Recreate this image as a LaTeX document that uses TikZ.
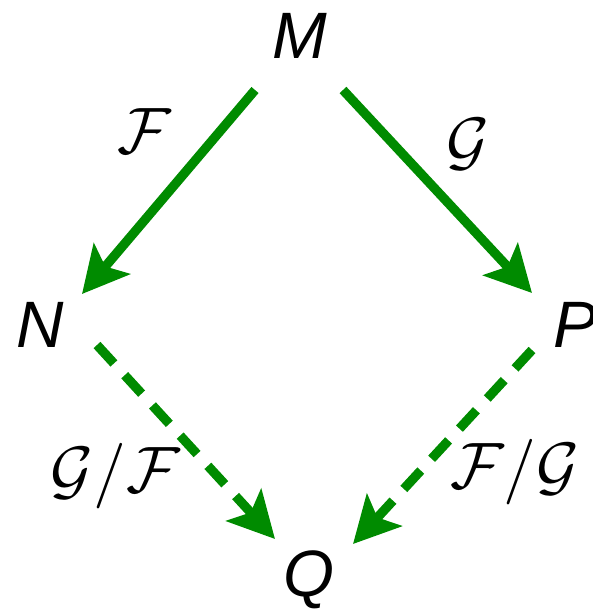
\documentclass[tikz,border=0pt]{standalone}
\usepackage{fontspec}
\setsansfont{Liberation Sans}
\DeclareFontShape{OMS}{cmsy}{m}{n}{<->cmsy10}{}
\DeclareFontShape{OML}{cmm}{m}{it}{<->cmmi10}{}
\DeclareFontShape{OT1}{cmr}{m}{n}{<->cmr10}{}
\definecolor{arrgreen}{RGB}{0,139,0}
\usetikzlibrary{arrows.meta}

\begin{document}
\begin{tikzpicture}[
  x=0.03cm, y=-0.03cm,
  obj/.style={font=\fontsize{56}{60}\selectfont\sffamily\itshape, inner sep=0pt},
  lbl/.style={font=\fontsize{56}{60}\selectfont, inner sep=0pt, anchor=base},
  arr/.style={-{Stealth[length=1.38cm,width=1.41cm,inset=0.3cm]}, line width=0.28cm, arrgreen},
  dasharr/.style={arr, dash pattern=on 0.75cm off 0.48cm},
]
  \useasboundingbox (0,0) rectangle (593,609);

  % Objects
  \node[obj] (M) at (300,36) {M};
  \node[obj] (N) at (40,325) {N};
  \node[obj] (P) at (575,325) {P};
  \node[obj] (Q) at (309,580) {Q};

  % Maps
  \draw[arr] ([shift={(-45,54)}]M.center) -- ([shift={(42,-31)}]N.center);
  \draw[arr] ([shift={(43,54)}]M.center) -- ([shift={(-43,-32)}]P.center);
  \draw[dasharr] ([shift={(57,20)}]N.center) -- ([shift={(-34,-41)}]Q.center);
  \draw[dasharr] ([shift={(-43,25)}]P.center) -- ([shift={(44,-36)}]Q.center);

  % Labels
  \node[lbl] (lF) at (144,153) {$\mathcal{F}$};
  \node[lbl] (lG) at (468,163) {$\mathcal{G}$};
  \node[lbl] (lGF) at (115,492) {$\mathcal{G}/\mathcal{F}$};
  \node[lbl] (lFG) at (515,488) {$\mathcal{F}/\mathcal{G}$};
\end{tikzpicture}
\end{document}
